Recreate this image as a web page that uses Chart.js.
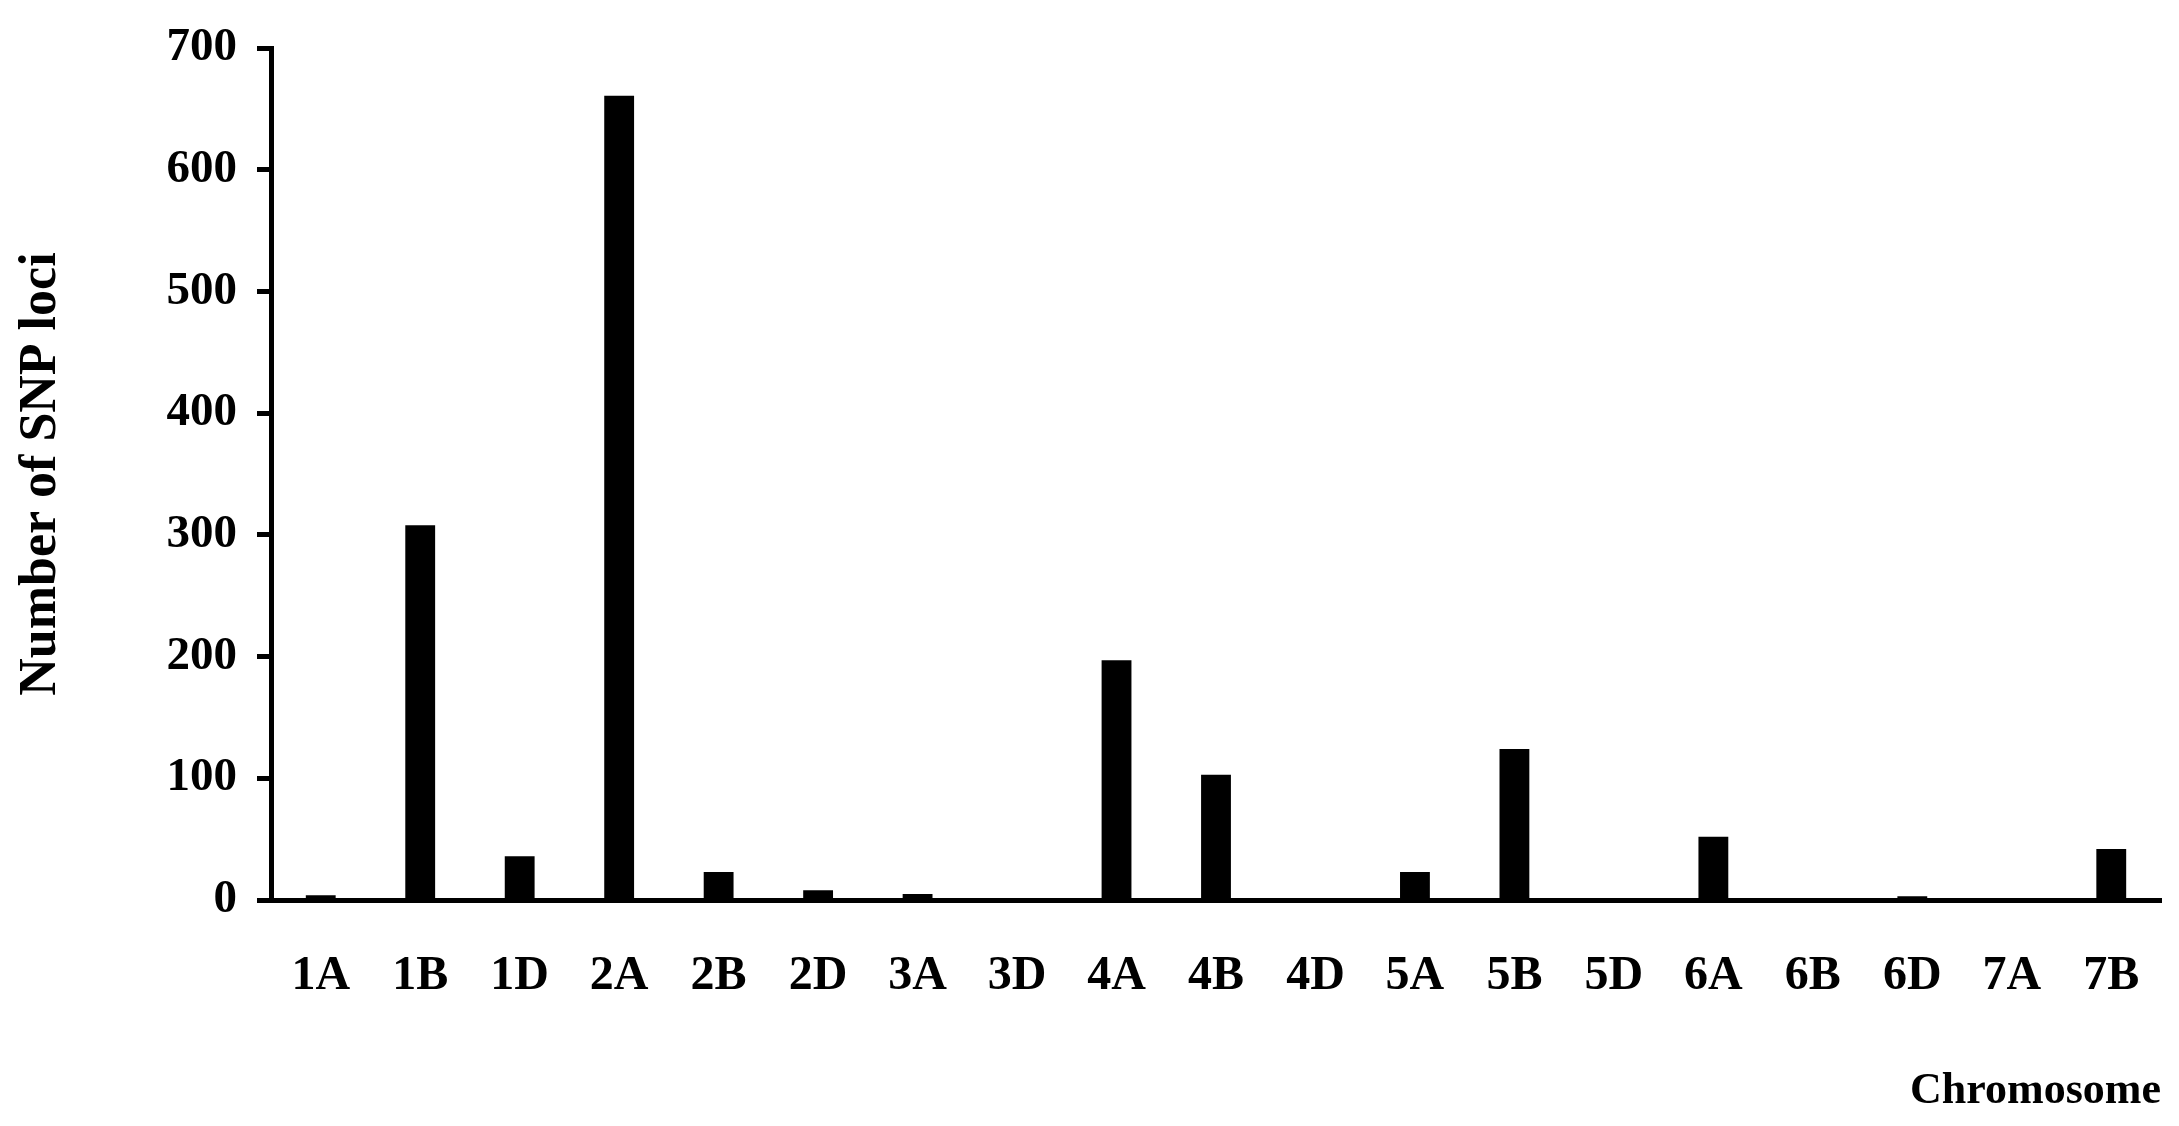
<!DOCTYPE html>
<html>
<head>
<meta charset="utf-8">
<script src="https://cdn.jsdelivr.net/npm/chart.js@4"></script>
<style>
  html, body { margin: 0; padding: 0; background: #fff; }
  #wrap { width: 2179px; height: 1126px; }
</style>
</head>
<body>
<div id="wrap"><canvas id="grafico"></canvas></div>
<script>
var chromosomes = ['1A', '1B', '1D', '2A', '2B', '2D', '3A', '3D', '4A', '4B', '4D', '5A', '5B', '5D', '6A', '6B', '6D', '7A', '7B'];
var snpLoci = [4, 308, 36, 661, 23, 8, 5, 0, 197, 103, 0, 23, 124, 0, 52, 0, 3, 0, 42];
var yTicks = [0, 100, 200, 300, 400, 500, 600, 700];

var fonte = 'Liberation Serif';

var ctx = document.getElementById('grafico').getContext('2d');
new Chart(ctx, {
    type: 'bar',
    data: {
        labels: chromosomes,
        datasets: [{
            label: 'Number of SNP loci',
            data: snpLoci,
            backgroundColor: '#000',
            borderWidth: 0,
            categoryPercentage: 1,
            barPercentage: 0.3
        }]
    },
    options: {
        responsive: true,
        maintainAspectRatio: false,
        animation: false,
        layout: { padding: { top: 39, right: 18, bottom: 0, left: 0 } },
        plugins: {
            legend: { display: false },
            tooltip: { enabled: false }
        },
        scales: {
            x: {
                // invisible ticks just push the labels down
                grid: {
                    drawOnChartArea: false,
                    drawTicks: true,
                    tickLength: 44,
                    tickColor: 'rgba(0,0,0,0)'
                },
                border: { display: true, color: '#000', width: 5 },
                ticks: {
                    color: '#000',
                    padding: 4,
                    maxRotation: 0,
                    autoSkip: false,
                    font: { family: fonte, size: 48, weight: 'bold' }
                },
                title: {
                    display: true,
                    text: 'Chromosome',
                    align: 'end',
                    color: '#000',
                    padding: { top: 34, bottom: 8 },
                    font: { family: fonte, size: 44, weight: 'bold' }
                },
                afterFit: function (scale) { scale.height = 1126 - 900; }
            },
            y: {
                min: 0,
                max: 700,
                afterBuildTicks: function (scale) {
                    scale.ticks = yTicks.map(function (v) { return { value: v }; });
                },
                grid: {
                    drawOnChartArea: false,
                    drawTicks: true,
                    tickLength: 14,
                    tickWidth: 5,
                    tickColor: '#000'
                },
                border: { display: true, color: '#000', width: 5 },
                ticks: {
                    color: '#000',
                    padding: 20,
                    font: { family: fonte, size: 47, weight: 'bold' }
                },
                title: {
                    display: true,
                    text: 'Number of SNP loci',
                    color: '#000',
                    padding: { top: 10, bottom: 0 },
                    font: { family: fonte, size: 52, weight: 'bold' }
                },
                afterFit: function (scale) { scale.width = 271; }
            }
        }
    }
});
</script>
</body>
</html>
